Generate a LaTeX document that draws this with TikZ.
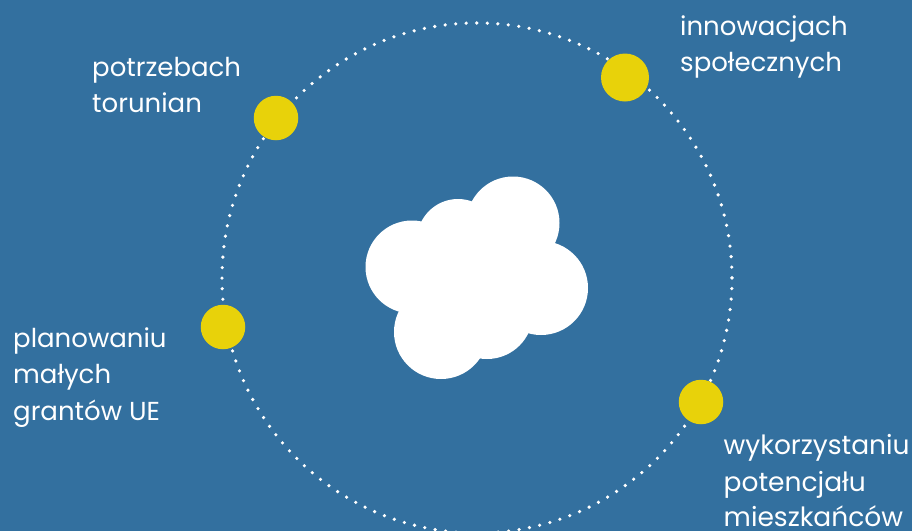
\documentclass[tikz,border=0pt]{standalone}
\usepackage{fontspec}
\setmainfont{Poppins}
\definecolor{bgblue}{HTML}{33709F}
\definecolor{dotyellow}{HTML}{E8D20A}
\tikzset{
  px/.style={x=1pt,y=-1pt},
  puff/.style={fill=white,draw=none},
  orbit/.style={draw=white,line width=3.6pt,line cap=round,dash pattern=on 0pt off 10.54pt},
  marker/.style={circle,fill=dotyellow,draw=none,minimum size=44.5pt,inner sep=0pt},
  lbl/.style={anchor=base west,inner sep=0pt,text=white,font=\fontsize{26}{36}\selectfont,align=left},
  lblbig/.style={lbl,font=\fontsize{26.5}{36}\selectfont}
}
\begin{document}
\begin{tikzpicture}[px]
\useasboundingbox (0,0) rectangle (912,531);
\clip (0,0) rectangle (912,531);
\fill[bgblue] (0,0) rectangle (912,531);
\draw[orbit] (477,278) circle[radius=255];
% cloud
\fill[puff] (513,223) circle[radius=46.5];
\fill[puff] (412,267) circle[radius=46.5];
\fill[puff] (458,240) circle[radius=41];
\fill[puff] (541,288) circle[radius=47];
\fill[puff] (441,332) circle[radius=47];
\fill[puff] (487,313) circle[radius=46];
\fill[puff] (480,275) circle[radius=50];
% markers
\node[marker] (m1) at (276,118) {};
\node[marker,minimum size=48pt] (m2) at (625,77.5) {};
\node[marker] (m3) at (223,327) {};
\node[marker] (m4) at (701,402) {};
% labels
\node[lbl] (t1a) at (92,76) {potrzebach};
\node[lbl] (t1b) at (92,112) {torunian};
\node[lbl] (t2a) at (680,35) {innowacjach};
\node[lbl] (t2b) at (680,71) {społecznych};
\node[lbl] (t3a) at (13,347) {planowaniu};
\node[lbl] (t3b) at (13,383) {małych};
\node[lbl] (t3c) at (13,420) {grantów UE};
\node[lblbig] (t4a) at (723.5,454) {wykorzystaniu};
\node[lblbig] (t4b) at (723.5,491) {potencjału};
\node[lblbig] (t4c) at (723.5,526) {mieszkańców};
\end{tikzpicture}
\end{document}
